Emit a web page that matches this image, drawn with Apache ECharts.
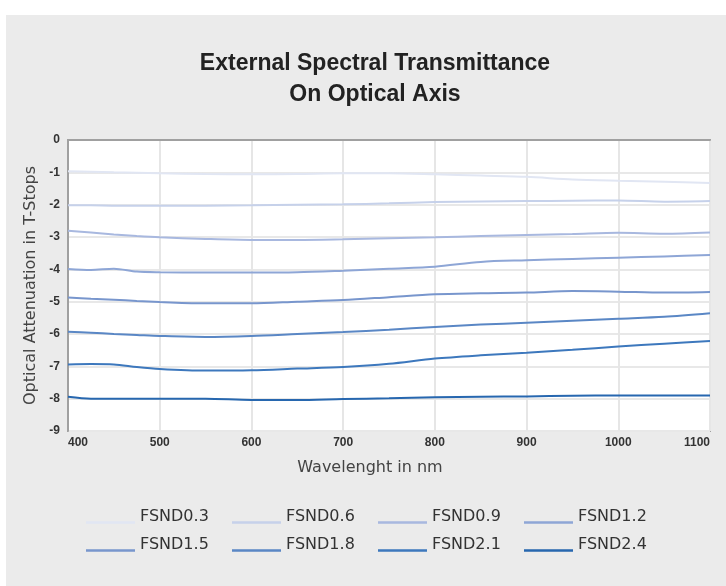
<!DOCTYPE html>
<html>
<head>
<meta charset="utf-8">
<script src="https://cdn.jsdelivr.net/npm/echarts@6/dist/echarts.min.js"></script>
<style>
html,body{margin:0;padding:0;background:#fff;}
#chart{width:726px;height:586px;}
</style>
</head>
<body>
<div id="chart"></div>
<script>
// Wavelength samples (nm)
const wavelengths = [400, 425, 450, 475, 500, 550, 600, 650, 700, 750, 800, 850, 900, 950, 1000, 1050, 1100];

// Optical attenuation (T-stops) per filter
const fsnd03 = [-0.97, -0.98, -1.00, -1.01, -1.03, -1.05, -1.06, -1.05, -1.03, -1.03, -1.06, -1.10, -1.14, -1.22, -1.26, -1.29, -1.33];
const fsnd06 = [-2.02, -2.02, -2.03, -2.03, -2.03, -2.03, -2.02, -2.00, -1.99, -1.96, -1.92, -1.90, -1.89, -1.88, -1.87, -1.91, -1.89];
const fsnd09 = [-2.81, -2.86, -2.92, -2.97, -3.01, -3.06, -3.09, -3.09, -3.07, -3.04, -3.01, -2.97, -2.94, -2.91, -2.87, -2.90, -2.86];
const fsnd12 = [-3.99, -4.02, -3.98, -4.07, -4.09, -4.10, -4.10, -4.09, -4.04, -3.98, -3.92, -3.77, -3.72, -3.68, -3.64, -3.60, -3.56];
const fsnd15 = [-4.87, -4.91, -4.94, -4.98, -5.01, -5.05, -5.05, -5.00, -4.95, -4.86, -4.77, -4.74, -4.72, -4.67, -4.69, -4.72, -4.70];
const fsnd18 = [-5.93, -5.96, -6.00, -6.03, -6.06, -6.09, -6.06, -6.00, -5.94, -5.87, -5.78, -5.71, -5.65, -5.59, -5.53, -5.47, -5.36];
const fsnd21 = [-6.94, -6.93, -6.94, -7.02, -7.08, -7.13, -7.12, -7.07, -7.02, -6.92, -6.76, -6.66, -6.58, -6.49, -6.39, -6.30, -6.22];
const fsnd24 = [-7.94, -8.00, -8.00, -8.00, -8.00, -8.00, -8.04, -8.04, -8.01, -7.99, -7.96, -7.94, -7.93, -7.91, -7.90, -7.90, -7.90];

const seriesNames = ['FSND0.3', 'FSND0.6', 'FSND0.9', 'FSND1.2', 'FSND1.5', 'FSND1.8', 'FSND2.1', 'FSND2.4'];
const seriesValues = [fsnd03, fsnd06, fsnd09, fsnd12, fsnd15, fsnd18, fsnd21, fsnd24];
const seriesColors = ['#e1e6f3', '#c6d1ea', '#a8b8df', '#8ea6d6', '#7896cd', '#5a87c5', '#3d78bd', '#2767af'];

const chart = echarts.init(document.getElementById('chart'), null, {renderer: 'canvas'});

const series = seriesNames.map((name, i) => ({
  name: name,
  type: 'line',
  symbol: 'none',
  smooth: 0.3,
  data: wavelengths.map((w, j) => [w, seriesValues[i][j]]),
  lineStyle: {color: seriesColors[i], width: 2},
  itemStyle: {color: seriesColors[i]},
  z: 3
}));

// legend icon: a line sitting at the bottom of the item box
const legendIcon = 'path://M0,0L0.001,0L0.001,0.001Z M0,11L49,11L49,13.5L0,13.5Z';
const legendCols = [86, 232, 378, 524];
const legendRows = [509, 537];
const legends = seriesNames.map((name, i) => ({
  left: legendCols[i % 4],
  top: legendRows[Math.floor(i / 4)],
  padding: 0,
  icon: legendIcon,
  itemWidth: 49,
  itemHeight: 14,
  data: [name],
  selectedMode: false,
  textStyle: {fontFamily: 'DejaVu Sans', fontSize: 16, color: '#333'}
}));

const option = {
  animation: false,
  backgroundColor: '#ffffff',
  graphic: [{
    type: 'rect', z: -10,
    shape: {x: 6, y: 15, width: 720, height: 571},
    style: {fill: '#ebebeb'}
  }],
  title: {
    text: 'External Spectral Transmittance\nOn Optical Axis',
    left: 370,
    top: 43,
    textAlign: 'center',
    textStyle: {fontFamily: 'Liberation Sans', fontWeight: 'bold', fontSize: 23, lineHeight: 31, color: '#222'}
  },
  legend: legends,
  grid: {
    left: 68, top: 140, right: 16, bottom: 155,
    show: true, backgroundColor: '#ffffff', borderColor: '#a0a0a0', borderWidth: 2,
    containLabel: false
  },
  xAxis: {
    type: 'value', min: 400, max: 1100, interval: 100,
    name: 'Wavelenght in nm', nameLocation: 'middle', nameGap: 29,
    nameTextStyle: {fontFamily: 'DejaVu Sans', fontSize: 16, color: '#444', padding: [0, 38, 0, 0]},
    axisLine: {show: true, lineStyle: {color: '#a0a0a0', width: 2}},
    axisTick: {show: false},
    axisLabel: {fontFamily: 'Liberation Sans', fontWeight: 'bold', fontSize: 12, color: '#333', margin: 6,
      alignMinLabel: 'left', alignMaxLabel: 'right', formatter: v => String(v)},
    splitLine: {show: true, lineStyle: {color: '#e6e6e6', width: 2}}
  },
  yAxis: {
    type: 'value', min: -9, max: 0, interval: 1,
    name: 'Optical Attenuation in T-Stops', nameLocation: 'middle', nameGap: 27,
    nameTextStyle: {fontFamily: 'DejaVu Sans', fontSize: 16, color: '#444'},
    axisLine: {show: true, lineStyle: {color: '#a0a0a0', width: 2}},
    axisTick: {show: false},
    axisLabel: {fontFamily: 'Liberation Sans', fontWeight: 'bold', fontSize: 12, color: '#333', margin: 8,
      formatter: v => String(v)},
    splitLine: {show: true, lineStyle: {color: '#e8e8e8', width: 2}}
  },
  series: series
};

chart.setOption(option);
</script>
</body>
</html>
